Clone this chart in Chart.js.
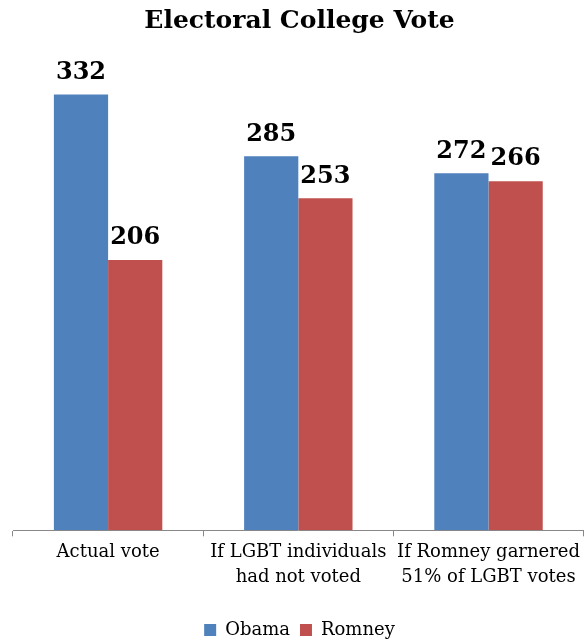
<!DOCTYPE html>
<html lang="en">
<head>
  <meta charset="UTF-8">
  <title>Electoral College Vote</title>
  <script src="https://cdn.jsdelivr.net/npm/chart.js"></script>
  <style>
    body { margin: 0; background: #fff; }
    #wrap { width: 584px; height: 641px; }
  </style>
</head>
<body>
<div id="wrap"><canvas id="voteChart" width="584" height="641"></canvas></div>

<script>
// chart data
const scenarios = [
  "Actual vote",
  ["If LGBT individuals", "had not voted"],
  ["If Romney garnered", "51% of LGBT votes"]
];
const obamaVotes = [332, 285, 272];
const romneyVotes = [206, 253, 266];

const serif = "'DejaVu Serif', 'Liberation Serif', serif";

// numbers over bars
const valueLabels = {
  id: "valueLabels",
  afterDatasetsDraw(chart) {
    const ctx = chart.ctx;
    ctx.save();
    ctx.font = "bold 24px " + serif;
    ctx.fillStyle = "#000";
    ctx.textAlign = "center";
    ctx.textBaseline = "bottom";
    chart.data.datasets.forEach((ds, i) => {
      chart.getDatasetMeta(i).data.forEach((bar, j) => {
        ctx.fillText(ds.data[j], bar.x, bar.y - 10);
      });
    });
    ctx.restore();
  }
};

new Chart(document.getElementById("voteChart").getContext("2d"), {
  type: "bar",
  data: {
    labels: scenarios,
    datasets: [
      { label: "Obama", data: obamaVotes, backgroundColor: "#4F81BD" },
      { label: "Romney", data: romneyVotes, backgroundColor: "#C0504D" }
    ]
  },
  options: {
    responsive: false,
    animation: false,
    layout: { padding: { left: 13, right: -2, top: 0, bottom: -8 } },
    datasets: { bar: { categoryPercentage: 0.57, barPercentage: 1 } },
    plugins: {
      title: {
        display: true,
        text: "Electoral College Vote",
        color: "#000",
        font: { family: serif, size: 25, weight: "bold" },
        padding: { top: 6, bottom: 35 }
      },
      legend: {
        position: "bottom",
        labels: {
          color: "#000",
          boxWidth: 12,
          boxHeight: 12,
          padding: 10,
          font: { family: serif, size: 18 }
        }
      },
      tooltip: { enabled: false }
    },
    scales: {
      y: { display: false, min: 0, max: 350 },
      x: {
        border: { display: true, color: "#888" },
        grid: { display: true, drawOnChartArea: false, color: "#888", tickLength: 6 },
        ticks: {
          color: "#000",
          maxRotation: 0,
          autoSkip: false,
          padding: 4,
          font: { family: serif, size: 18, lineHeight: 1.38 }
        },
        afterFit(scale) { scale.height += 17; }
      }
    }
  },
  plugins: [valueLabels]
});
</script>
</body>
</html>
